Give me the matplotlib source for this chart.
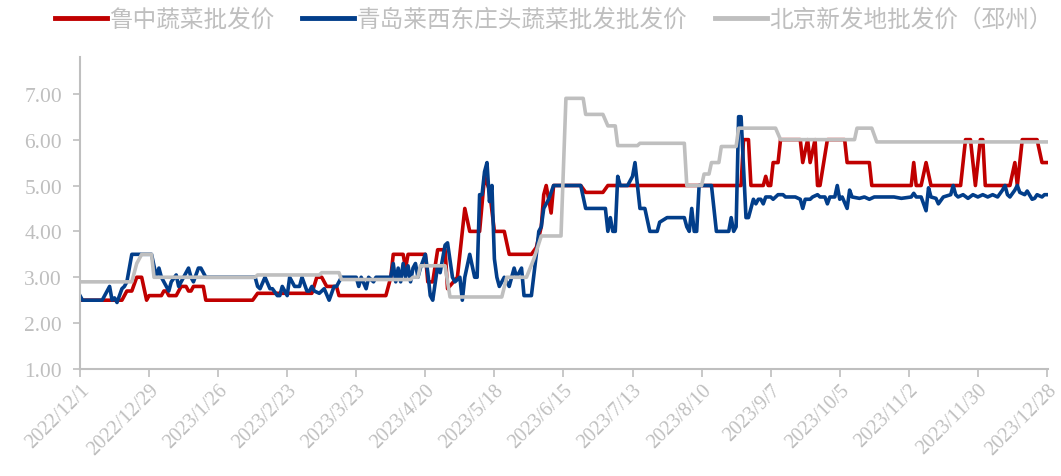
import matplotlib
matplotlib.use("Agg")
import matplotlib.pyplot as plt
import pandas as pd

# day offsets from 2022/12/1 and prices (yuan/kg)
start = pd.Timestamp("2022-12-01")

red_pts = [
    (0, 2.5), (17, 2.5), (19, 2.7), (21, 2.7), (23, 3.0), (25, 3.0), (27, 2.5), (28, 2.6),
    (33, 2.6), (34, 2.7), (35, 2.7), (36, 2.6), (39, 2.6), (41, 2.8), (43, 2.8), (44, 2.7),
    (45, 2.7), (46, 2.8), (50, 2.8), (51, 2.5), (70, 2.5), (72, 2.65), (94, 2.65), (96, 3.0),
    (98, 3.0), (100, 2.8), (104, 2.8), (105, 2.6), (124, 2.6), (126, 3.0), (127, 3.5), (131, 3.5),
    (132, 3.2), (133, 3.5), (140, 3.5), (141, 2.9), (143, 2.9), (145, 3.6), (148, 3.6), (149, 2.75),
    (153, 3.0), (156, 4.5), (158, 4.0), (162, 4.0), (164, 5.2), (166, 4.9), (168, 4.0), (172, 4.0),
    (174, 3.5), (183, 3.5), (185, 3.65), (187, 4.1), (188, 4.8), (189, 5.0), (191, 4.4), (192, 5.0),
    (203, 5.0), (205, 4.85), (212, 4.85), (214, 5.0), (268, 5.0), (269, 6.0), (271, 6.0), (272, 5.0),
    (277, 5.0), (278, 5.2), (279, 5.0), (280, 5.0), (281, 5.5), (283, 5.5), (284, 6.0), (292, 6.0),
    (293, 5.5), (295, 6.0), (296, 5.5), (298, 6.0), (299, 5.0), (300, 5.0), (303, 6.0), (310, 6.0),
    (311, 5.5), (320, 5.5), (321, 5.0), (337, 5.0), (338, 5.5), (339, 5.0), (341, 5.0), (343, 5.5),
    (345, 5.0), (357, 5.0), (359, 6.0), (361, 6.0), (363, 5.0), (364, 5.5), (365, 6.0), (366, 6.0),
    (367, 5.0), (377, 5.0), (379, 5.5), (380, 5.0), (382, 6.0), (388, 6.0), (390, 5.5), (392, 5.5),
]

blue_pts = [
    (0, 2.6), (1, 2.5), (9, 2.5), (10, 2.6), (11, 2.7), (12, 2.8), (13, 2.5), (14, 2.55),
    (15, 2.45), (17, 2.75), (18, 2.8), (19, 2.9), (21, 3.5), (29, 3.5), (31, 3.0), (32, 3.2),
    (33, 3.0), (34, 2.9), (36, 2.7), (37, 2.9), (39, 3.05), (40, 2.8), (42, 3.0), (44, 3.2),
    (45, 3.0), (46, 2.9), (48, 3.2), (49, 3.2), (51, 3.0), (71, 3.0), (72, 2.8), (73, 2.75),
    (75, 3.0), (77, 2.75), (78, 2.75), (80, 2.6), (81, 2.6), (82, 2.8), (84, 2.6), (85, 3.0),
    (87, 2.8), (89, 2.8), (90, 3.0), (92, 2.7), (93, 2.7), (94, 2.8), (95, 2.7), (97, 2.65),
    (99, 2.75), (101, 2.5), (103, 2.8), (104, 2.8), (106, 3.0), (112, 3.0), (113, 2.8), (114, 3.0),
    (116, 2.75), (117, 3.0), (119, 2.9), (120, 3.0), (126, 3.0), (127, 3.3), (128, 2.9), (129, 3.2),
    (130, 2.9), (131, 3.3), (132, 3.0), (133, 3.25), (134, 2.9), (135, 3.2), (136, 3.3), (137, 3.0),
    (138, 3.2), (140, 3.5), (141, 3.1), (142, 2.6), (143, 2.5), (145, 3.25), (146, 3.1), (148, 3.7),
    (149, 3.75), (151, 3.0), (152, 2.9), (154, 3.0), (155, 2.5), (156, 3.0), (158, 3.5), (160, 3.0),
    (161, 3.0), (162, 4.8), (163, 4.8), (164, 5.3), (165, 5.5), (166, 4.65), (167, 5.0), (168, 3.4),
    (169, 3.0), (170, 2.8), (172, 3.0), (174, 2.8), (176, 3.2), (177, 3.0), (179, 3.2), (180, 2.6),
    (183, 2.6), (185, 3.5), (186, 4.0), (187, 4.1), (188, 4.5), (190, 4.7), (192, 5.0), (203, 5.0),
    (205, 4.5), (213, 4.5), (214, 4.0), (215, 4.3), (216, 4.0), (217, 4.0), (218, 5.2), (219, 5.0),
    (222, 5.0), (224, 5.2), (225, 5.5), (227, 4.5), (229, 4.5), (230, 4.25), (231, 4.0), (234, 4.0),
    (235, 4.2), (238, 4.3), (245, 4.3), (246, 4.1), (247, 4.0), (248, 4.5), (249, 4.0), (250, 4.0),
    (251, 5.0), (256, 5.0), (258, 4.0), (263, 4.0), (264, 4.3), (265, 4.0), (266, 4.1), (267, 6.5),
    (268, 6.5), (270, 4.3), (271, 4.3), (272, 4.5), (273, 4.7), (274, 4.6), (275, 4.7), (276, 4.7),
    (277, 4.6), (278, 4.75), (280, 4.75), (281, 4.7), (283, 4.8), (285, 4.8), (286, 4.75), (290, 4.75),
    (292, 4.7), (293, 4.5), (294, 4.7), (296, 4.7), (297, 4.75), (299, 4.8), (300, 4.75), (302, 4.75),
    (303, 4.6), (304, 4.75), (306, 4.75), (307, 5.0), (308, 4.7), (309, 4.75), (311, 4.5), (312, 4.9),
    (313, 4.75), (316, 4.72), (318, 4.75), (320, 4.7), (322, 4.75), (326, 4.75), (330, 4.75), (333, 4.72),
    (337, 4.75), (338, 4.83), (339, 4.75), (341, 4.75), (343, 4.45), (344, 4.95), (345, 4.75), (347, 4.72),
    (348, 4.6), (350, 4.75), (353, 4.8), (354, 5.0), (355, 4.8), (356, 4.75), (358, 4.8), (360, 4.72),
    (362, 4.8), (364, 4.75), (366, 4.8), (368, 4.75), (370, 4.8), (372, 4.75), (374, 4.9), (375, 5.0),
    (376, 4.8), (377, 4.75), (379, 4.9), (380, 5.0), (381, 4.85), (383, 4.8), (384, 4.88), (386, 4.7),
    (387, 4.72), (388, 4.8), (390, 4.75), (391, 4.8), (392, 4.8),
]

gray_pts = [
    (0, 2.9), (21, 2.9), (23, 3.3), (25, 3.5), (29, 3.5), (30, 3.0), (71, 3.0), (72, 3.05),
    (97, 3.05), (98, 3.1), (105, 3.1), (106, 2.95), (134, 2.95), (135, 3.0), (137, 3.0), (138, 3.25),
    (148, 3.25), (150, 2.57), (171, 2.57), (173, 3.0), (181, 3.0), (184, 3.4), (187, 3.9), (195, 3.9),
    (197, 6.9), (204, 6.9), (205, 6.55), (212, 6.55), (214, 6.3), (217, 6.3), (218, 5.87), (226, 5.87),
    (227, 5.92), (245, 5.92), (246, 5.0), (252, 5.0), (253, 5.25), (255, 5.25), (256, 5.5), (259, 5.5),
    (260, 5.85), (266, 5.85), (267, 6.25), (282, 6.25), (284, 6.0), (314, 6.0), (315, 6.25), (321, 6.25),
    (323, 5.95), (392, 5.95),
]

names = ["鲁中蔬菜批发价", "青岛莱西东庄头蔬菜批发批发价", "北京新发地批发价（邳州）"]
colors = ["#C00000", "#023E8A", "#BFBFBF"]
tick_days = list(range(0, 393, 28))

axis_grey = "#BFBFBF"

fig = plt.figure(figsize=(10.61, 4.77), dpi=100)
ax = fig.add_axes([0.0754, 0.2243, 0.9125, 0.654])

for pts, name, c in zip([red_pts, blue_pts, gray_pts], names, colors):
    d, v = zip(*pts)
    dates = start + pd.to_timedelta(list(d), unit="D")
    ax.plot(dates, v, color=c, lw=2.6, label=name, solid_joinstyle="round")

ax.set_ylim(1, 7.8)
ax.set_yticks([1, 2, 3, 4, 5, 6, 7])
ax.set_yticklabels([f"{y:.2f}" for y in [1, 2, 3, 4, 5, 6, 7]],
                   fontfamily="Liberation Serif", fontsize=15.5, color=axis_grey)

ticks = [start + pd.Timedelta(days=t) for t in tick_days]
ax.set_xlim(start, start + pd.Timedelta(days=392.5))
ax.set_xticks(ticks)
ax.set_xticklabels([f"{t.year}/{t.month}/{t.day}" for t in ticks], rotation=45,
                   ha="right", rotation_mode="anchor",
                   fontfamily="Liberation Serif", fontsize=14.5, color=axis_grey)

for s in ["top", "right"]:
    ax.spines[s].set_visible(False)
for s in ["left", "bottom"]:
    ax.spines[s].set_color(axis_grey)
    ax.spines[s].set_linewidth(1.5)
ax.tick_params(axis="x", colors=axis_grey, length=6, width=1.2, pad=2)
ax.tick_params(axis="y", colors=axis_grey, length=5, width=1.2, pad=8)

leg = fig.legend(loc="center", bbox_to_anchor=(0.522, 0.957), ncol=3, frameon=False,
                 handlelength=2.2, handletextpad=0.12, columnspacing=1.15,
                 prop={"family": ["Noto Sans CJK SC", "DejaVu Sans"], "size": 17})
for t in leg.get_texts():
    t.set_color(axis_grey)
for h in leg.get_lines():
    h.set_linewidth(3.5)

fig.savefig("out.png", dpi=100)
